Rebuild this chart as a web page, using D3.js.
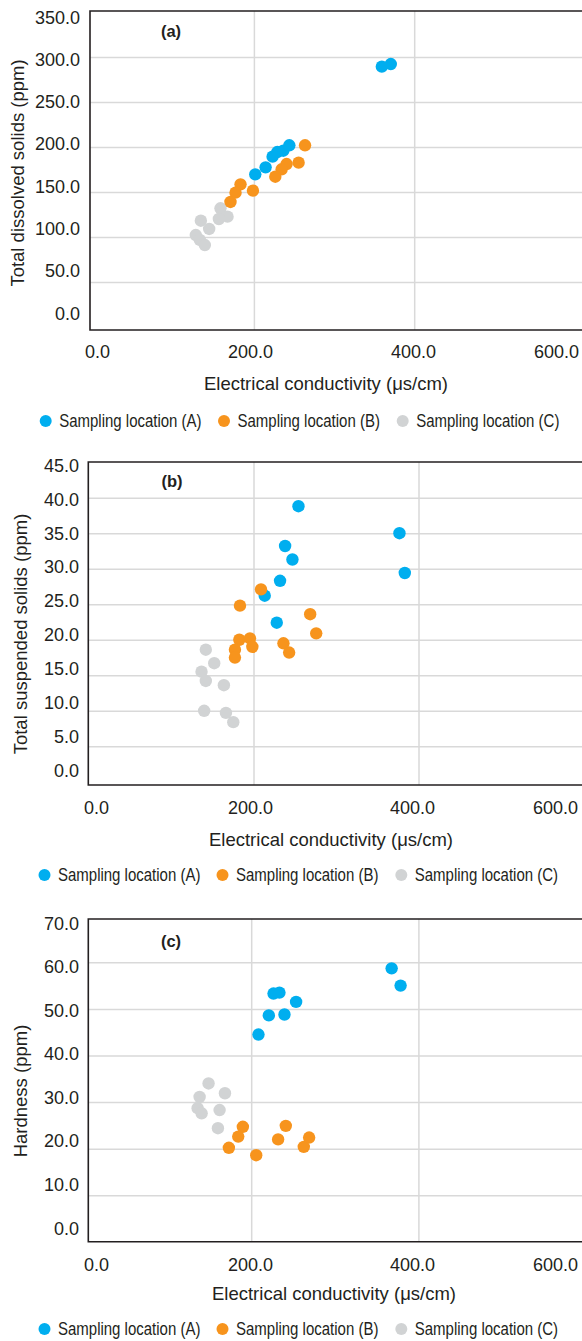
<!DOCTYPE html>
<html>
<head>
<meta charset="utf-8">
<script src="https://cdn.jsdelivr.net/npm/d3@7"></script>
<style>
  html, body { margin: 0; padding: 0; background: #fff; }
  svg { display: block; }
  text { fill: #231f20; }
</style>
</head>
<body>
<svg id="chart" width="582" height="1341"></svg>
<script>
// Electrical conductivity (µS/cm) vs. water quality parameters at three sampling locations

const xTicks = [0, 200, 400, 600];
const tdsTicks = [0, 50, 100, 150, 200, 250, 300, 350];
const tssTicks = [0, 5, 10, 15, 20, 25, 30, 35, 40, 45];
const hardTicks = [0, 10, 20, 30, 40, 50, 60, 70];
const seriesNames = ["Sampling location (A)", "Sampling location (B)", "Sampling location (C)"];

// (a) Total dissolved solids
const ecTdsA = [359.6, 370.8, 201.7, 214.6, 223.3, 229.2, 236.7, 244.2];
const tdsA   = [289.3, 292.2, 169.6, 177.4, 189.3, 194.4, 195.9, 201.9];
const ecTdsB = [263.8, 255.8, 240.8, 234.6, 226.7, 183.3, 177.1, 170.8, 198.8];
const tdsB   = [201.9, 182.6, 181.1, 175.2, 167.0, 158.5, 149.3, 138.9, 151.5];
const ecTdsC = [158.3, 167.1, 156.3, 133.8, 144.2, 127.5, 132.5, 138.8];
const tdsC   = [131.9, 122.6, 120.0, 118.1, 108.9, 102.2, 96.7, 91.1];

// (b) Total suspended solids
const ecTssA = [254.5, 376.9, 238.3, 247.2, 383.4, 232.2, 213.6, 228.2];
const tssA   = [38.8, 35.0, 33.2, 31.3, 29.4, 28.3, 26.2, 22.4];
const ecTssB = [209.1, 183.6, 268.7, 276.0, 182.8, 195.7, 198.6, 177.5, 177.5, 236.3, 243.2];
const tssB   = [27.1, 24.8, 23.6, 20.9, 20.0, 20.2, 19.0, 18.6, 17.5, 19.5, 18.2];
const ecTssC = [142.2, 152.4, 137.0, 142.2, 164.1, 140.2, 166.6, 175.5];
const tssC   = [18.6, 16.7, 15.5, 14.2, 13.6, 10.0, 9.7, 8.4];

// (c) Hardness
const ecHardA = [368.0, 378.7, 226.7, 233.8, 253.7, 221.1, 239.8, 208.7];
const hardA   = [58.7, 55.0, 53.3, 53.5, 51.5, 48.6, 48.8, 44.5];
const ecHardB = [190.0, 184.5, 173.3, 206.0, 241.4, 232.2, 262.9, 269.3];
const hardB   = [24.7, 22.6, 20.2, 18.6, 24.9, 22.0, 20.4, 22.4];
const ecHardC = [149.0, 168.6, 138.3, 135.9, 140.7, 162.2, 160.2];
const hardC   = [34.0, 31.9, 31.1, 28.7, 27.6, 28.3, 24.4];

const colors = ["#00aeef", "#f7941d", "#d1d3d4"];
const drawOrder = [0, 2, 1];

const panels = [
  {
    tag: "(a)", yTitle: "Total dissolved solids (ppm)", yTicks: tdsTicks,
    series: [[ecTdsA, tdsA], [ecTdsB, tdsB], [ecTdsC, tdsC]],
    frame: { left: 90, top: 11, bottom: 330 },
    xRange: [93.6, 574.5], yRange: [327, 12],
    yLabRange: [313, 16.7], labRight: 80,
    xLabPos: [97, 250, 413, 556], xLabY: 352,
    xTitlePos: [326, 384], yTitlePos: [18, 173], tagPos: [171, 31],
    legendY: 421, legendDots: [45.7, 224, 402.7]
  },
  {
    tag: "(b)", yTitle: "Total suspended solids (ppm)", yTicks: tssTicks,
    series: [[ecTssA, tssA], [ecTssB, tssB], [ecTssC, tssC]],
    frame: { left: 88.3, top: 462, bottom: 785 },
    xRange: [88.5, 583.5], yRange: [781.8, 462.2],
    yLabRange: [770, 465], labRight: 79,
    xLabPos: [96, 250, 412, 555], xLabY: 808,
    xTitlePos: [331, 840], yTitlePos: [21, 634], tagPos: [172, 481],
    legendY: 875, legendDots: [44.5, 222.5, 401.3]
  },
  {
    tag: "(c)", yTitle: "Hardness (ppm)", yTicks: hardTicks,
    series: [[ecHardA, hardA], [ecHardB, hardB], [ecHardC, hardC]],
    frame: { left: 88.3, top: 919, bottom: 1241.7 },
    xRange: [84, 585.6], yRange: [1241.9, 915.7],
    yLabRange: [1227.7, 922.7], labRight: 79,
    xLabPos: [96, 250, 412, 555], xLabY: 1265,
    xTitlePos: [334, 1294], yTitlePos: [20.4, 1091], tagPos: [171, 941],
    legendY: 1329, legendDots: [44.5, 222.5, 401.3]
  }
];

const svg = d3.select("#chart");
const W = 582;
const fmt = d3.format(".1f");
const sans = "'Liberation Sans', Arial, Helvetica, sans-serif";

panels.forEach(p => {
  const g = svg.append("g");
  const yMax = p.yTicks[p.yTicks.length - 1];
  const x = d3.scaleLinear().domain([0, 600]).range(p.xRange);
  const y = d3.scaleLinear().domain([0, yMax]).range(p.yRange);
  const xLab = d3.scaleLinear().domain(xTicks).range(p.xLabPos);
  const yLab = d3.scaleLinear().domain([0, yMax]).range(p.yLabRange);
  const fr = p.frame;

  // horizontal gridlines
  const hGrid = g.append("g")
    .attr("transform", `translate(${fr.left},0)`)
    .call(d3.axisLeft(y).tickValues(p.yTicks.filter(v => v > 0 && v < yMax))
      .tickSize(-(W - fr.left)).tickFormat(""));
  hGrid.select(".domain").remove();
  hGrid.selectAll("line").attr("stroke", "#d9d9d9").attr("stroke-width", 1.5);

  // vertical gridlines
  const vGrid = g.append("g")
    .attr("transform", `translate(0,${fr.bottom})`)
    .call(d3.axisBottom(x).tickValues(xTicks.filter(v => v > 0 && x(v) < W - 10))
      .tickSize(-(fr.bottom - fr.top)).tickFormat(""));
  vGrid.select(".domain").remove();
  vGrid.selectAll("line").attr("stroke", "#d9d9d9").attr("stroke-width", 1.5);

  // frame: top, left, bottom
  g.append("path")
    .attr("d", `M${W + 2},${fr.top}H${fr.left}V${fr.bottom}H${W + 2}`)
    .attr("fill", "none").attr("stroke", "#231f20").attr("stroke-width", 1.6);

  // y tick labels
  const yAx = g.append("g")
    .attr("transform", `translate(${p.labRight},0)`)
    .call(d3.axisLeft(yLab).tickValues(p.yTicks).tickFormat(fmt).tickSize(0).tickPadding(0));
  yAx.select(".domain").remove();
  yAx.selectAll("text")
    .attr("font-family", sans).attr("font-size", 18).attr("fill", "#231f20")
    .attr("dy", "0.35em");

  // x tick labels
  const xAx = g.append("g")
    .attr("transform", `translate(0,${p.xLabY})`)
    .call(d3.axisBottom(xLab).tickValues(xTicks).tickFormat(fmt).tickSize(0).tickPadding(0));
  xAx.select(".domain").remove();
  xAx.selectAll("text")
    .attr("font-family", sans).attr("font-size", 18).attr("fill", "#231f20")
    .attr("y", 0).attr("dy", "0.35em");

  // axis titles
  g.append("text")
    .attr("x", p.xTitlePos[0]).attr("y", p.xTitlePos[1]).attr("dy", "0.35em")
    .attr("text-anchor", "middle")
    .attr("font-family", sans).attr("font-size", 18.5)
    .text("Electrical conductivity (μs/cm)");
  g.append("text")
    .attr("transform", `translate(${p.yTitlePos[0]},${p.yTitlePos[1]}) rotate(-90)`)
    .attr("dy", "0.35em").attr("text-anchor", "middle")
    .attr("font-family", sans).attr("font-size", 18.5)
    .text(p.yTitle);

  // panel tag
  g.append("text")
    .attr("x", p.tagPos[0]).attr("y", p.tagPos[1]).attr("dy", "0.35em")
    .attr("text-anchor", "middle")
    .attr("font-family", sans).attr("font-size", 16.5).attr("font-weight", "bold")
    .text(p.tag);

  // points
  drawOrder.forEach(si => {
    const [xs, ys] = p.series[si];
    g.append("g").selectAll("circle")
      .data(xs.map((v, i) => [v, ys[i]]))
      .join("circle")
      .attr("cx", d => x(d[0]))
      .attr("cy", d => y(d[1]))
      .attr("r", 6.2)
      .attr("fill", colors[si]);
  });

  // legend (condensed lettering)
  const lg = g.append("g");
  seriesNames.forEach((name, si) => {
    lg.append("circle")
      .attr("cx", p.legendDots[si]).attr("cy", p.legendY)
      .attr("r", 6).attr("fill", colors[si]);
    lg.append("text")
      .attr("transform", `translate(${p.legendDots[si] + 13.5},${p.legendY}) scale(0.81,1)`)
      .attr("dy", "0.35em")
      .attr("font-family", sans).attr("font-size", 18.5)
      .text(name);
  });
});
</script>
</body>
</html>
